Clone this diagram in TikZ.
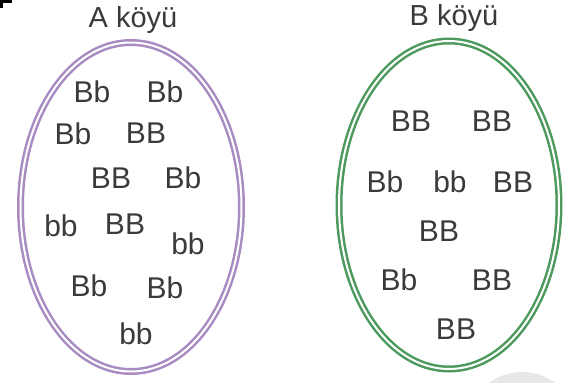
\documentclass[tikz,border=0pt]{standalone}
\usepackage{fontspec}
\setmainfont{Liberation Sans}
\usepackage{tikz}

\definecolor{koyA}{HTML}{A88BC2}
\definecolor{koyB}{HTML}{4E9A5E}
\definecolor{yazi}{HTML}{3A3A3A}

\tikzset{
  gen/.style={text=yazi,font=\fontsize{30}{33}\selectfont,inner sep=0pt},
  baslik/.style={text=yazi,font=\fontsize{29}{32}\selectfont,inner sep=0pt},
  sinir/.style={double=white,double distance=2pt,line width=2.5pt}
}

\begin{document}
\begin{tikzpicture}[x=1pt,y=-1pt]
\useasboundingbox (0,0) rectangle (571,383);
\begin{scope}
\clip (0,0) rectangle (571,383);
\fill[gray!18] (522,428) circle (56);
\fill[black] (0,0) rectangle (12,3);
\fill[black] (0,0) rectangle (3,8);
\end{scope}
% A koyu
\node[baslik] (ta) at (133,20) {A köyü};
\draw[sinir,koyA] (131,207) ellipse (110.5 and 164.5);
\node[gen] (a1) at (92,92) {Bb};
\node[gen] (a2) at (165,92) {Bb};
\node[gen] (a3) at (73,134) {Bb};
\node[gen] (a4) at (146,133) {BB};
\node[gen] (a5) at (111,178) {BB};
\node[gen] (a6) at (183,178) {Bb};
\node[gen] (a7) at (61,226) {bb};
\node[gen] (a8) at (125,224) {BB};
\node[gen] (a9) at (188,244) {bb};
\node[gen] (a10) at (89,286) {Bb};
\node[gen] (a11) at (165,288) {Bb};
\node[gen] (a12) at (136,334) {bb};
% B koyu
\node[baslik] (tb) at (454,18) {B köyü};
\draw[sinir,koyB] (449,205) ellipse (110 and 164);
\node[gen] (b1) at (411,121) {BB};
\node[gen] (b2) at (492,121) {BB};
\node[gen] (b3) at (385,182) {Bb};
\node[gen] (b4) at (450,182) {bb};
\node[gen] (b5) at (513,182) {BB};
\node[gen] (b6) at (439,231) {BB};
\node[gen] (b7) at (399,280) {Bb};
\node[gen] (b8) at (492,280) {BB};
\node[gen] (b9) at (456,329) {BB};
\end{tikzpicture}
\end{document}
